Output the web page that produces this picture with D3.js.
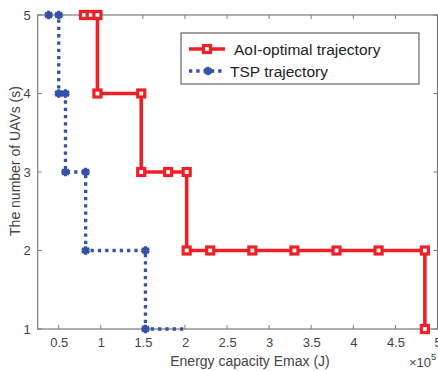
<!DOCTYPE html>
<html><head><meta charset="utf-8">
<script src="https://cdn.jsdelivr.net/npm/d3@7"></script>
<style>body{margin:0;background:#fff}svg{display:block}text{font-family:"Liberation Sans",Arial,Helvetica,sans-serif}</style>
</head><body>
<script>
// AoI-optimal trajectory (x in 1e5 J, y = number of UAVs)
const aoiX = [0.80, 0.88, 0.96, 0.96, 1.48, 1.48, 1.80, 2.02, 2.02, 2.30, 2.80, 3.30, 3.80, 4.30, 4.85, 4.85];
const aoiY = [5, 5, 5, 4, 4, 3, 3, 3, 2, 2, 2, 2, 2, 2, 2, 1];
// TSP trajectory
const tspX = [0.38, 0.50, 0.50, 0.58, 0.58, 0.82, 0.82, 1.53, 1.53, 1.98];
const tspY = [5, 5, 4, 4, 3, 3, 2, 2, 1, 1];
const tspMarked = [1, 1, 1, 1, 1, 1, 1, 1, 1, 0];
const xTicks = [0.5, 1, 1.5, 2, 2.5, 3, 3.5, 4, 4.5, 5];
const xTickLabels = ["0.5", "1", "1.5", "2", "2.5", "3", "3.5", "4", "4.5", "5"];
const yTicks = [1, 2, 3, 4, 5];
const seriesNames = ["AoI-optimal trajectory", "TSP trajectory"];

const W = 438, H = 371;
const m = {l: 37.7, r: 437.5, t: 15, b: 329};
const RED = "#ee1f26", BLUE = "#3553a6", AX = "#7a7a7a", TXT = "#444";

const svg = d3.select("body").append("svg").attr("width", W).attr("height", H);
const x = d3.scaleLinear().domain([0.25, 5]).range([m.l, m.r]);
const y = d3.scaleLinear().domain([1, 5]).range([m.b, m.t]);

// axes box with inward ticks
const tl = 4;
const g = svg.append("g");
g.append("rect").attr("x", m.l).attr("y", m.t).attr("width", m.r - m.l).attr("height", m.b - m.t)
  .attr("fill", "none").attr("stroke", AX).attr("stroke-width", 1.2);
xTicks.forEach(v => {
  g.append("line").attr("x1", x(v)).attr("x2", x(v)).attr("y1", m.b).attr("y2", m.b - tl).attr("stroke", AX);
  g.append("line").attr("x1", x(v)).attr("x2", x(v)).attr("y1", m.t).attr("y2", m.t + tl).attr("stroke", AX);
});
yTicks.forEach(v => {
  g.append("line").attr("x1", m.l).attr("x2", m.l + tl).attr("y1", y(v)).attr("y2", y(v)).attr("stroke", AX);
  g.append("line").attr("x1", m.r).attr("x2", m.r - tl).attr("y1", y(v)).attr("y2", y(v)).attr("stroke", AX);
});
const xAxis = d3.axisBottom(x).tickValues(xTicks).tickFormat((d, i) => xTickLabels[i]).tickSize(0).tickPadding(9);
svg.append("g").attr("transform", `translate(0,${m.b})`).call(xAxis)
  .call(s => s.select(".domain").remove())
  .selectAll("text").attr("font-size", 13).attr("fill", TXT).attr("font-family", "Liberation Sans, Arial, sans-serif");
const yAxis = d3.axisLeft(y).tickValues(yTicks).tickFormat(d3.format("d")).tickSize(0).tickPadding(7);
svg.append("g").attr("transform", `translate(${m.l},0)`).call(yAxis)
  .call(s => s.select(".domain").remove())
  .selectAll("text").attr("font-size", 13).attr("fill", TXT).attr("font-family", "Liberation Sans, Arial, sans-serif");

// labels
svg.append("text").attr("x", 250).attr("y", 366).attr("text-anchor", "middle")
  .attr("font-size", 14).attr("fill", TXT).text("Energy capacity Emax (J)");
svg.append("text").attr("transform", `translate(20,161) rotate(-90)`).attr("text-anchor", "middle")
  .attr("font-size", 14).attr("fill", TXT).text("The number of UAVs (s)");
const ex = svg.append("text").attr("x", 409).attr("y", 367).attr("font-size", 13).attr("fill", TXT);
ex.append("tspan").text("\u00d710");
ex.append("tspan").attr("dy", -7).attr("font-size", 9.5).text("5");

// series
const aoi = aoiX.map((v, i) => [v, aoiY[i]]);
const tsp = tspX.map((v, i) => [v, tspY[i], tspMarked[i]]);
const line = d3.line().x(d => x(d[0])).y(d => y(d[1]));

svg.append("path").datum(tsp).attr("d", line).attr("fill", "none").attr("stroke", BLUE)
  .attr("stroke-width", 3.3).attr("stroke-dasharray", "3.3,4");
const ast = d3.symbol().type(d3.symbolAsterisk).size(50);
svg.selectAll(".tm").data(tsp.filter(d => d[2])).join("path").attr("class", "tm")
  .attr("transform", d => `translate(${x(d[0])},${y(d[1])})`).attr("d", ast)
  .attr("fill", "none").attr("stroke", BLUE).attr("stroke-width", 3.2);

svg.append("path").datum(aoi).attr("d", line).attr("fill", "none").attr("stroke", RED).attr("stroke-width", 3.6);
svg.selectAll(".am").data(aoi).join("rect").attr("class", "am")
  .attr("x", d => x(d[0]) - 3.5).attr("y", d => y(d[1]) - 3.5).attr("width", 7).attr("height", 7)
  .attr("fill", "#fff").attr("stroke", RED).attr("stroke-width", 3.2);

// legend
const lg = svg.append("g");
lg.append("rect").attr("x", 181).attr("y", 33).attr("width", 238).attr("height", 51)
  .attr("fill", "#fff").attr("stroke", "#666").attr("stroke-width", 1.2);
lg.append("line").attr("x1", 189).attr("x2", 225).attr("y1", 49).attr("y2", 49).attr("stroke", RED).attr("stroke-width", 3.6);
lg.append("rect").attr("x", 203.5).attr("y", 45.5).attr("width", 7).attr("height", 7).attr("fill", "#fff").attr("stroke", RED).attr("stroke-width", 3.2);
lg.append("text").attr("x", 234).attr("y", 54.5).attr("font-size", 15.5).attr("fill", "#222").text(seriesNames[0]);
lg.append("line").attr("x1", 189).attr("x2", 225).attr("y1", 71).attr("y2", 71).attr("stroke", BLUE).attr("stroke-width", 3.3).attr("stroke-dasharray", "3.3,4");
lg.append("path").attr("transform", "translate(208,71)").attr("d", ast).attr("fill", "none").attr("stroke", BLUE).attr("stroke-width", 3.2);
lg.append("text").attr("x", 230).attr("y", 76.5).attr("font-size", 15.5).attr("fill", "#222").text(seriesNames[1]);
</script>
</body></html>
